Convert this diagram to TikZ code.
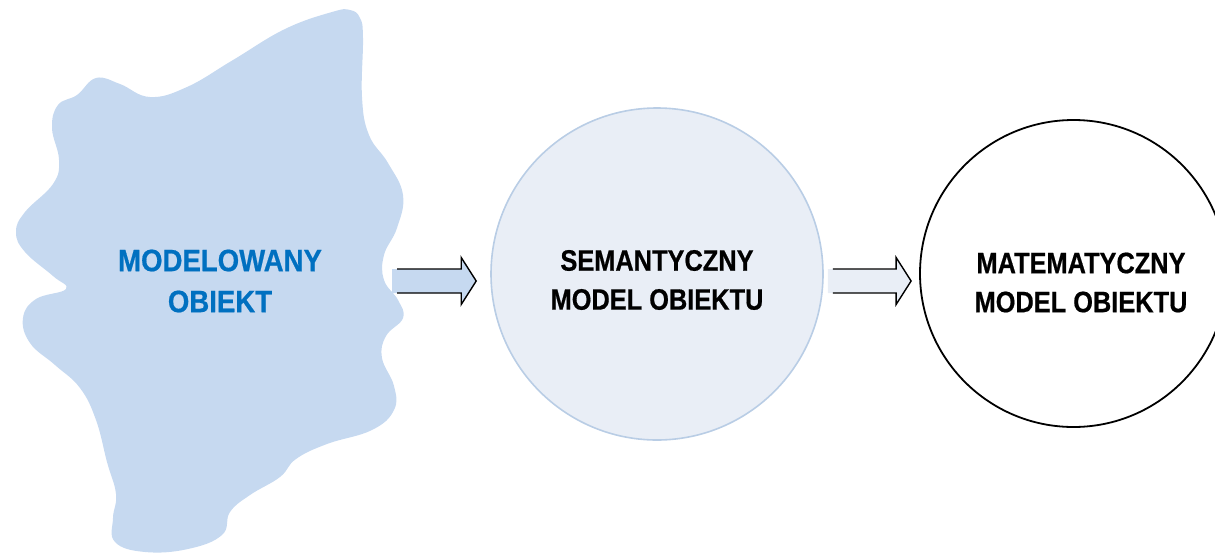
\documentclass[tikz,border=0pt]{standalone}
\usepackage{fontspec}
\setmainfont{Liberation Sans}
\newfontfamily\capsblack[FakeStretch=0.86,FakeBold=0.6]{Liberation Sans}
\newfontfamily\capsblue[FakeStretch=0.89,FakeBold=0.6]{Liberation Sans}
\usetikzlibrary{calc}

\definecolor{blobfill}{RGB}{198,217,240}
\definecolor{semfill}{RGB}{233,238,246}
\definecolor{semline}{RGB}{185,205,229}
\definecolor{objblue}{RGB}{0,112,192}

% block arrow: shaft open at its tail, outlined head
\newcommand\fatarrow[3]{%
  \fill[#3] ($(#1)+(0,-12)$) -- ($(#2)+(-15,-12)$) -- ($(#2)+(-15,-23.5)$) -- (#2)
    -- ($(#2)+(-15,23.5)$) -- ($(#2)+(-15,12)$) -- ($(#1)+(0,12)$) -- cycle;
  \draw[arrowline] ($(#1)+(5,-12)$) -- ($(#2)+(-15,-12)$) -- ($(#2)+(-15,-23.5)$) -- (#2)
    -- ($(#2)+(-15,23.5)$) -- ($(#2)+(-15,12)$) -- ($(#1)+(5,12)$);
}

\begin{document}
\begin{tikzpicture}[x=1pt,y=-1pt,
  captext/.style={align=center,inner sep=0pt,
    font=\capsblack\bfseries\fontsize{29.5}{39}\selectfont,text=black},
  objtext/.style={align=center,inner sep=0pt,
    font=\capsblue\bfseries\fontsize{31}{41}\selectfont,text=objblue},
  semcirc/.style={circle,draw=semline,line width=1.6pt,fill=semfill,
    minimum size=332pt,inner sep=0pt},
  matcirc/.style={circle,draw=black,line width=1.8pt,fill=white,
    minimum size=307pt,inner sep=0pt},
  arrowline/.style={draw=black,line width=1.4pt,line join=miter}]

\useasboundingbox (0,0) rectangle (1215,552);

% the modelled object
\fill[blobfill] plot[smooth cycle, tension=0.7] coordinates {
  (332,12) (350,10) (360,18) (363,38) (362,97) (369,135) (388,163) (403,195)
  (397,228) (384,255) (384,280) (398,300) (403,318) (386,336) (382,358)
  (394,386) (394,410) (372,430) (327,444) (296,459) (280,477) (250,495)
  (230,512) (222,535) (188,549) (145,552) (115,542) (113,518) (116,494)
  (107,462) (96,420) (80,388) (55,365) (30,343) (23,318) (36,299)
  (66,289) (53,276) (25,252) (16,232) (25,212) (53,184) (59,160)
  (52,128) (58,105) (77,95) (96,78) (120,84) (150,97) (187,87)
  (233,60) (285,29)};
\node[objtext] (obj) at (220,281) {MODELOWANY\\OBIEKT};

% semantic model
\node[semcirc] (sem) at (657,274) {};
\node[captext] (semtxt) at (657,280) {SEMANTYCZNY\\MODEL OBIEKTU};

% mathematical model
\node[matcirc] (mat) at (1073.5,273.5) {};
\node[captext] (mattxt) at (1081,282.5) {MATEMATYCZNY\\MODEL OBIEKTU};

% connectors
\coordinate (a1s) at ($(obj)+(172,0)$);
\coordinate (a1e) at ($(sem.west)+(-14,7)$);
\coordinate (a2s) at ($(sem.east)+(4,7)$);
\coordinate (a2e) at ($(mat.west)+(-8,7.5)$);
\fatarrow{a1s}{a1e}{blobfill}
\fatarrow{a2s}{a2e}{semfill}

\end{tikzpicture}
\end{document}
